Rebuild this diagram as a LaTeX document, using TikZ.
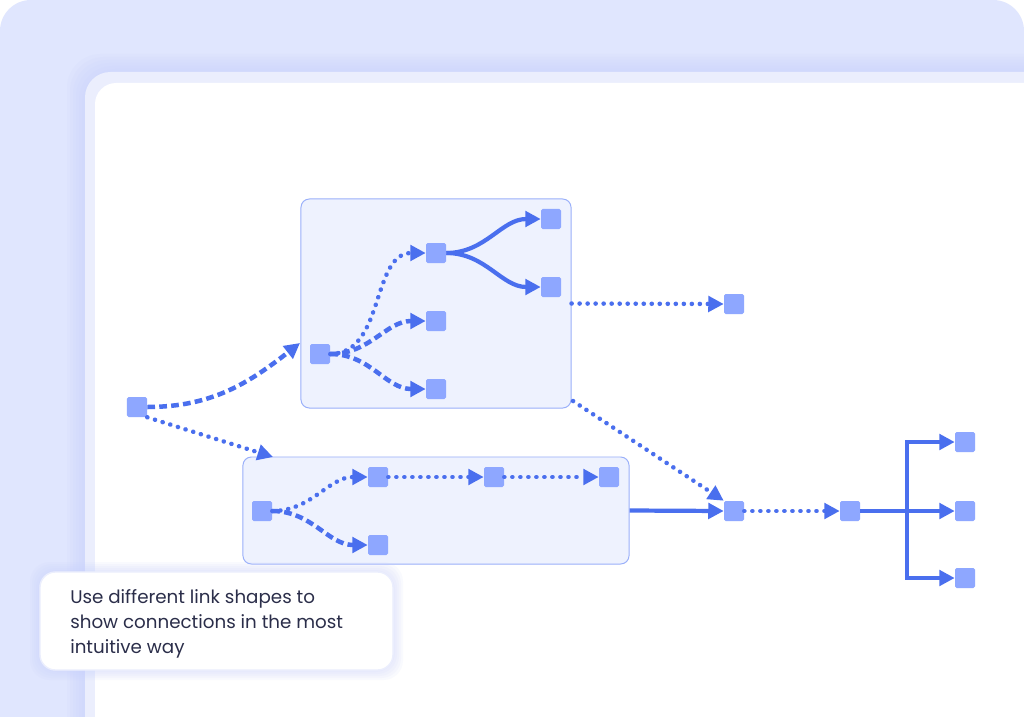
\documentclass[tikz,border=0pt]{standalone}
\usepackage{fontspec}
\setsansfont{Poppins}
\usetikzlibrary{arrows.meta}
\usetikzlibrary{positioning}

\definecolor{bglav}{HTML}{E0E6FE}
\definecolor{shadelav}{HTML}{C8D2FC}
\definecolor{panelrim}{HTML}{EBEEFD}
\definecolor{groupfill}{HTML}{EEF2FE}
\definecolor{groupline}{HTML}{9AB0FA}
\definecolor{itemblue}{HTML}{8EA7FF}
\definecolor{linkblue}{HTML}{4A6FEE}
\definecolor{textnavy}{HTML}{2B2E4A}

\begin{document}
\begin{tikzpicture}[x=0.025cm, y=-0.025cm,
    group/.style={draw=groupline, fill=groupfill, line width=0.7pt, rounded corners=6pt, inner sep=0pt},
    item/.style={fill=itemblue, rounded corners=1.2pt, minimum size=0.5cm, inner sep=0pt},
    link/.style={draw=linkblue, line width=3pt, -{Triangle[length=11pt, width=11pt]}},
    dotlink/.style={link, line width=3.2pt, line cap=round, dash pattern=on 0.1pt off 5.6pt},
    dashlink/.style={link, line width=3.2pt, dash pattern=on 5.5pt off 3pt}]
    \useasboundingbox (0,0) rectangle (1024,716);
    % backdrop and window
    \fill[white] (0,0) rectangle (1024,716);
    \fill[bglav, rounded corners=22pt] (0,0) rectangle (1024,760);
    \foreach \s in {18,15,...,3}
        \fill[shadelav, opacity=0.12, rounded corners=24pt] (85-\s,72-\s) rectangle (1100,800);
    \fill[panelrim, rounded corners=18pt] (85,72) rectangle (1100,800);
    \fill[white, rounded corners=15pt] (95,83) rectangle (1100,800);

    % groups
    \node[group, minimum width=6.75cm, minimum height=5.225cm] (box1) at (436,303.5) {};
    \node[group, minimum width=9.65cm, minimum height=2.675cm] (box2) at (436,510.5) {};

    % items
    \node[item] (a) at (137,407) {};
    \node[item] (b1) at (320,354) {};
    \node[item] (b2) at (436,253) {};
    \node[item] (b3) at (436,321) {};
    \node[item] (b4) at (436,389) {};
    \node[item] (b5) at (551,219) {};
    \node[item] (b6) at (551,287) {};
    \node[item] (c) at (734,304) {};
    \node[item] (d1) at (262,511) {};
    \node[item] (d2) at (378,477) {};
    \node[item] (d3) at (378,545) {};
    \node[item] (d4) at (494,477) {};
    \node[item] (d5) at (609,477) {};
    \node[item] (e) at (734,511) {};
    \node[item] (f) at (850,511) {};
    \node[item] (g1) at (965,442) {};
    \node[item] (g2) at (965,511) {};
    \node[item] (g3) at (965,578) {};

    \coordinate (box1in) at (300,343);
    \coordinate (box2in) at (273,457);
    \coordinate (box1out) at (573,401);
    \coordinate (fork) at (907,511);

    % links
    \draw[dashlink] (a.east) to[out=0, in=218] (box1in);
    \draw[dotlink] (a.south east) -- (box2in);
    \draw[dotlink] (b1.east) to[out=0, in=180] (b2.west);
    \draw[dashlink] (b1.east) to[out=0, in=180] (b3.west);
    \draw[dashlink] (b1.east) to[out=0, in=180] (b4.west);
    \draw[link] (b2.east) to[out=0, in=180] (b5.west);
    \draw[link] (b2.east) to[out=0, in=180] (b6.west);
    \draw[dotlink] (box1.east) -- (c.west);
    \draw[dotlink] (box1out) -- (e.north west);
    \draw[dotlink] (d1.east) to[out=0, in=180] (d2.west);
    \draw[dashlink] (d1.east) to[out=0, in=180] (d3.west);
    \draw[dotlink] (d2) -- (d4);
    \draw[dotlink] (d4) -- (d5);
    \draw[link] (box2.east) -- (e.west);
    \draw[dotlink] (e) -- (f);
    \draw[link] (f) -- (g2);
    \draw[link] (fork) |- (g1);
    \draw[link] (fork) |- (g3);

    % caption
    \foreach \s in {10,8,...,2}
        \fill[shadelav, opacity=0.1, rounded corners=14pt] (40-\s,572-\s) rectangle (393+\s,670+\s);
    \node[fill=white, draw=panelrim, line width=1pt, rounded corners=11pt, minimum width=8.825cm, minimum height=2.45cm] (capbox) at (216.5,621) {};
    \node[anchor=north west, align=left, text=textnavy, font=\sffamily\fontsize{13pt}{18pt}\selectfont, inner sep=0pt] (cap) at (70,589)
        {Use different link shapes to\\show connections in the most\\intuitive way};
\end{tikzpicture}
\end{document}
